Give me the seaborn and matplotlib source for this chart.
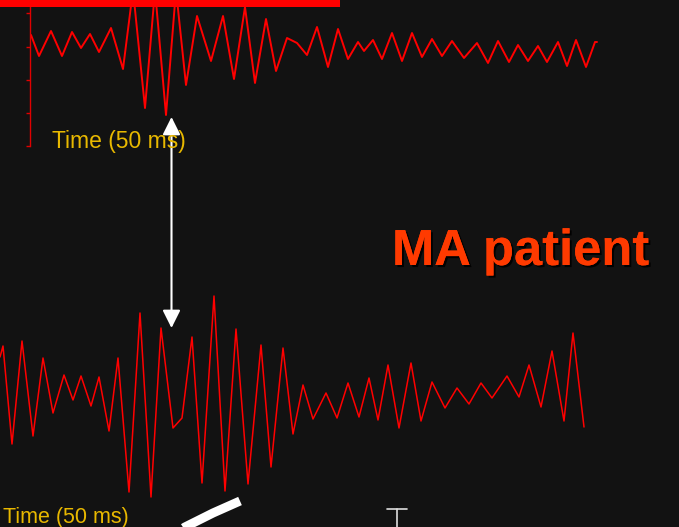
import matplotlib
matplotlib.use("Agg")
import matplotlib.pyplot as plt
import matplotlib.patheffects as pe
import numpy as np
import pandas as pd
import seaborn as sns

# Upper recording: time position and amplitude of each turning point
upper_time = [31, 39, 51, 62, 72, 81, 90, 99, 111, 123, 133, 145, 155, 166, 176,
              186, 197, 211, 223, 234, 245, 255, 266, 276, 287, 297, 307, 317, 328,
              338, 348, 358, 364, 373, 382, 392, 402, 412, 422, 432, 442, 452, 464,
              477, 488, 498, 509, 518, 528, 538, 547, 558, 567, 576, 586, 595, 597]
upper_amp = [45, 24, 49, 24, 48, 32, 46, 28, 52, 11, 90, -28, 90, -35, 90,
             -5, 64, 19, 64, 1, 73, -3, 61, 9, 42, 37, 25, 53, 13,
             51, 21, 38, 29, 40, 21, 47, 19, 47, 23, 41, 24, 39, 22,
             37, 17, 39, 18, 35, 19, 34, 18, 38, 14, 40, 13, 38, 38]

# Lower recording (MA patient)
lower_time = [0, 3, 12, 22, 33, 43, 53, 64, 73, 81, 91, 99, 109, 118, 129, 140,
              151, 161, 173, 182, 192, 202, 214, 225, 236, 248, 261, 271, 283,
              293, 303, 313, 326, 337, 348, 359, 369, 378, 388, 399, 411, 421,
              432, 445, 457, 469, 481, 492, 507, 519, 529, 541, 552, 564, 573, 584]
lower_amp = [53, 64, -34, 69, -26, 52, -3, 35, 10, 34, 4, 33, -21, 52, -82, 97,
             -87, 82, -18, -8, 73, -73, 114, -81, 81, -74, 65, -57, 62,
             -24, 25, -9, 17, -8, 27, -7, 32, -10, 45, -18, 47, -11,
             28, 2, 22, 6, 27, 12, 34, 13, 45, 3, 59, -11, 77, -17]

upper_ticks = [67, 33, 0, -33, -66]
time_label = "Time (50 ms)"
title_label = "MA patient"

BG = "#121212"
TRACE = "#ff0000"
GOLD = "#e8b800"

sns.set_theme(style="dark", rc={"figure.facecolor": BG, "axes.facecolor": BG})
plt.rcParams["font.family"] = ["Liberation Sans", "DejaVu Sans"]

W, H = 679, 527
fig = plt.figure(figsize=(W / 100, H / 100), dpi=100)
fig.patch.set_facecolor(BG)


def px_axes(x0, y0, x1, y1):
    """Axes placed by pixel box (top-left origin)."""
    return fig.add_axes([x0 / W, 1 - y1 / H, (x1 - x0) / W, (y1 - y0) / H])


# --- upper trace with its amplitude axis ---
ax_up = px_axes(30, 0, W, 146)
ax_up.set_facecolor("none")
up_df = pd.DataFrame({"t": upper_time, "v": upper_amp})
sns.lineplot(data=up_df, x="t", y="v", sort=False, color=TRACE, linewidth=1.4,
             solid_joinstyle="round", ax=ax_up)
ax_up.set_xlim(30, W)
ax_up.set_ylim(-66, 80)
for side in ["top", "right", "bottom"]:
    ax_up.spines[side].set_visible(False)
ax_up.spines["left"].set_visible(True)
ax_up.spines["left"].set_color("#e00000")
ax_up.spines["left"].set_linewidth(1.0)
ax_up.set_yticks(upper_ticks)
ax_up.set_yticklabels([])
ax_up.set_xticks([])
ax_up.tick_params(axis="y", left=True, length=3, width=1.0, color="#e00000",
                  direction="out")
ax_up.set_xlabel("")
ax_up.set_ylabel("")
ax_up.grid(False)

# --- lower trace ---
ax_lo = px_axes(0, 280, W, 520)
ax_lo.set_facecolor("none")
lo_df = pd.DataFrame({"t": lower_time, "v": lower_amp})
sns.lineplot(data=lo_df, x="t", y="v", sort=False, color=TRACE, linewidth=1.1,
             solid_joinstyle="round", ax=ax_lo)
ax_lo.set_xlim(0, W)
ax_lo.set_ylim(-110, 130)
ax_lo.set_axis_off()

# --- overlay in pixel coordinates for slide annotations ---
ov = px_axes(0, 0, W, H)
ov.set_facecolor("none")
ov.set_xlim(0, W)
ov.set_ylim(H, 0)
ov.set_axis_off()

# red bar along the top edge
ov.add_patch(plt.Rectangle((0, 0), 340, 7, color="#ff0000", lw=0, zorder=5))

# double-headed arrow linking the two recordings
ov.annotate("", xy=(171.5, 117), xytext=(171.5, 328),
            arrowprops=dict(arrowstyle="<|-|>,head_length=1.08,head_width=0.54",
                            color="white", lw=1.5, shrinkA=0, shrinkB=0,
                            mutation_scale=10))

ov.text(52, 148, time_label, color=GOLD, fontsize=16.5, va="baseline",
        ha="left")
ov.text(3, 523, time_label, color=GOLD, fontsize=15.5, va="baseline",
        ha="left")

ov.text(392, 265, title_label, color="#ff3a00", fontsize=36.5, fontweight="bold",
        va="baseline", ha="left",
        path_effects=[pe.withSimplePatchShadow(offset=(1.5, -1.5),
                                               shadow_rgbFace="black",
                                               alpha=0.9),
                      pe.Normal()])

# white stroke at the bottom edge
ov.plot([165, 185, 213, 240], [540, 527, 513, 501], color="white", lw=6.5,
        solid_capstyle="butt")

# text cursor mark
ov.plot([387, 407], [509, 509], color="#dddddd", lw=1.2)
ov.plot([397, 397], [509, 530], color="#dddddd", lw=1.2)

fig.savefig("out.png", dpi=100, facecolor=BG)
